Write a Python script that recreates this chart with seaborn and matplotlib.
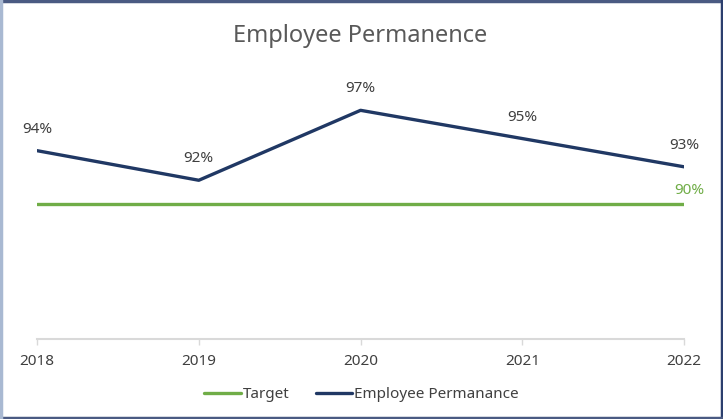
import pandas as pd
import seaborn as sns
import matplotlib.pyplot as plt
from matplotlib.lines import Line2D

# chart data
years = [2018, 2019, 2020, 2021, 2022]
permanence = [0.940, 0.918, 0.970, 0.949, 0.928]
target = [0.90, 0.90, 0.90, 0.90, 0.90]
series_names = ["Target", "Employee Permanance"]

NAVY = "#203864"
GREEN = "#70ad47"
TEXT = "#404040"

sns.set_style("white")
plt.rcParams["font.family"] = ["Noto Sans", "DejaVu Sans"]

df = pd.DataFrame({
    "Year": years * 2,
    "Value": target + permanence,
    "Series": [series_names[0]] * len(years) + [series_names[1]] * len(years),
})

fig = plt.figure(figsize=(7.23, 4.19), dpi=100)
ax = fig.add_axes([0.0512, 0.191, 0.895, 0.642])

sns.lineplot(
    data=df,
    x="Year",
    y="Value",
    hue="Series",
    palette={series_names[0]: GREEN, series_names[1]: NAVY},
    linewidth=2.4,
    ax=ax,
)

ax.set_xlim(years[0], years[-1])
ax.set_ylim(0.80, 1.00)
ax.set_xticks(years)
ax.set_xticklabels([str(y) for y in years], fontsize=11, color=TEXT)
ax.set_yticks([])
ax.set_xlabel("")
ax.set_ylabel("")

for side in ["top", "right", "left"]:
    ax.spines[side].set_visible(False)
ax.spines["bottom"].set_color("#d9d9d9")
ax.spines["bottom"].set_linewidth(1.5)
ax.tick_params(axis="x", length=4, width=1, color="#d9d9d9", pad=7, direction="out")
ax.tick_params(axis="x", bottom=True)

# data labels
for x, v in zip(years, permanence):
    ax.annotate(f"{v:.0%}", (x, v), xytext=(0, 10), textcoords="offset points",
                ha="center", va="bottom", fontsize=11, color=TEXT,
                annotation_clip=False)
ax.annotate(f"{target[-1]:.0%}", (years[-1], target[-1]), xytext=(4, 5),
            textcoords="offset points", ha="center", va="bottom",
            fontsize=11, color=GREEN, annotation_clip=False)

ax.set_title("Employee Permanence", fontsize=17, color="#595959", pad=20)

handles = [Line2D([], [], color=GREEN, lw=2.4), Line2D([], [], color=NAVY, lw=2.4)]
ax.get_legend().remove()
fig.legend(handles, series_names, loc="center", bbox_to_anchor=(0.5, 0.058),
           ncol=2, frameon=False, fontsize=11, handlelength=2.4,
           handletextpad=0.12, columnspacing=1.7, labelcolor=TEXT)

# figure border
border = dict(transform=fig.transFigure, lw=2.5)
fig.add_artist(Line2D([0, 1], [0.998, 0.998], color="#4a5a82", **border))
fig.add_artist(Line2D([0.998, 0.998], [0, 1], color="#2c3f6e", **border))
fig.add_artist(Line2D([0, 1], [0.002, 0.002], color="#4a5a82", **border))
fig.add_artist(Line2D([0.002, 0.002], [0, 1], color="#a9b9d2", **border))

fig.savefig("out.png", dpi=100)
